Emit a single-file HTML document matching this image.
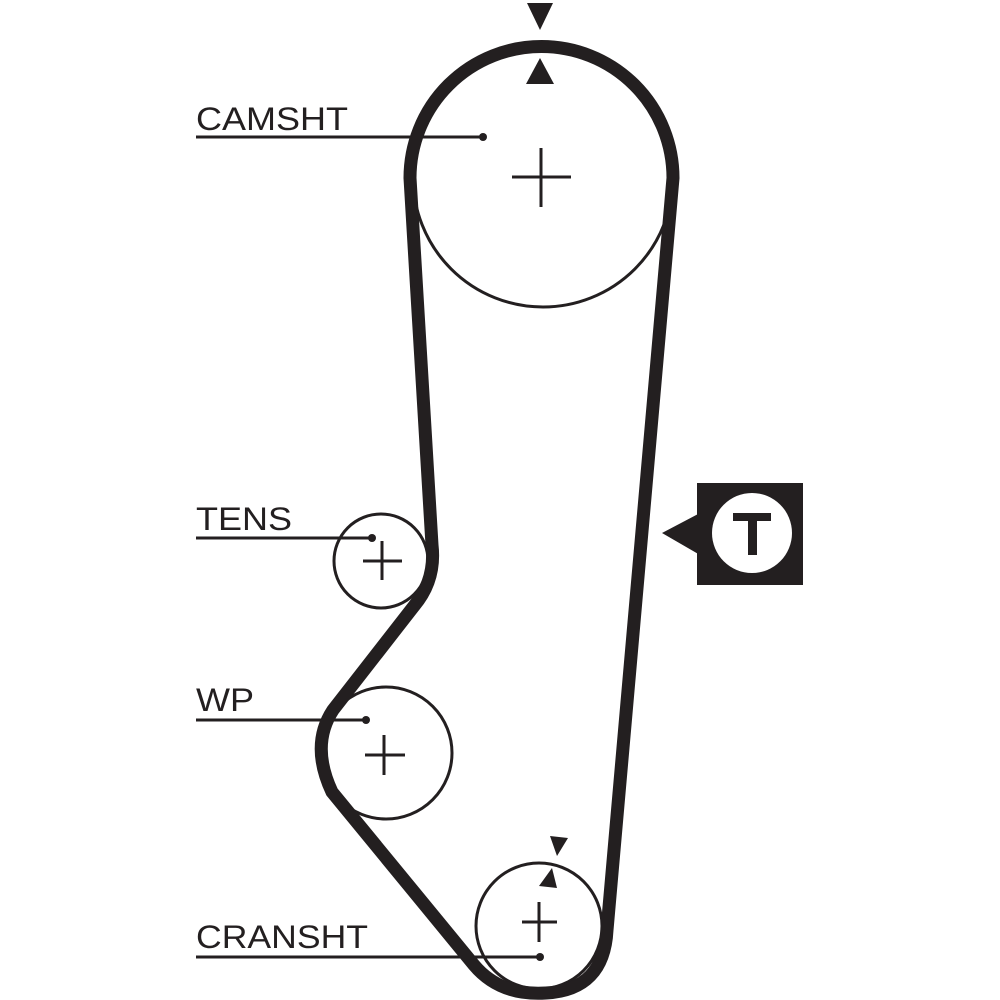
<!DOCTYPE html>
<html><head><style>
body{margin:0;background:#fff;}
svg{display:block;}
text{font-family:"Liberation Sans",sans-serif;font-size:32px;fill:#231f20;}
</style></head><body>
<svg width="1000" height="1000" viewBox="0 0 1000 1000">
<g fill="none" stroke="#231f20">
<circle cx="543" cy="177" r="130" stroke-width="3"/>
<circle cx="381" cy="561" r="47" stroke-width="3"/>
<circle cx="386" cy="753" r="66" stroke-width="3"/>
<circle cx="539" cy="926" r="63" stroke-width="3"/>
<path d="M410 178 L432 545 Q436 580 414 606 L333 710 Q310 745 332 792 L474 965 Q500 996 546 993 Q604 990 607 930 L673 178 A131.5 131.5 0 0 0 410 178 Z" stroke-width="13" stroke-linejoin="round"/>
<g stroke-width="3">
<path d="M541 148V207M512 177H571"/>
<path d="M382 541V580M363 561H402"/>
<path d="M384 735V775M365 755H405"/>
<path d="M539 902V942M522 922H557"/>
<path d="M196 137H483M196 538H372M196 720H366M196 957H540"/>
</g>
</g>
<g fill="#231f20">
<circle cx="483" cy="137" r="4"/><circle cx="372" cy="538" r="4"/><circle cx="366" cy="720" r="4"/><circle cx="540" cy="957" r="4"/>
<polygon points="527,3 553,3 540,30"/>
<polygon points="526,84 554,84 540,58"/>
<polygon points="550,836 568,838 557,856"/>
<polygon points="539,886 557,888 552,868"/>
<rect x="697" y="483" width="106" height="102"/>
<polygon points="662,533 700,513 700,555"/>
<circle cx="752" cy="533" r="40" fill="#fff"/>
<rect x="733" y="513" width="38" height="8"/><rect x="748" y="513" width="9" height="42"/>
</g>
<text x="196" y="130" textLength="152" lengthAdjust="spacingAndGlyphs">CAMSHT</text>
<text x="196" y="530" textLength="96" lengthAdjust="spacingAndGlyphs">TENS</text>
<text x="196" y="711" textLength="58" lengthAdjust="spacingAndGlyphs">WP</text>
<text x="196" y="948" textLength="172" lengthAdjust="spacingAndGlyphs">CRANSHT</text>
</svg>
</body></html>
